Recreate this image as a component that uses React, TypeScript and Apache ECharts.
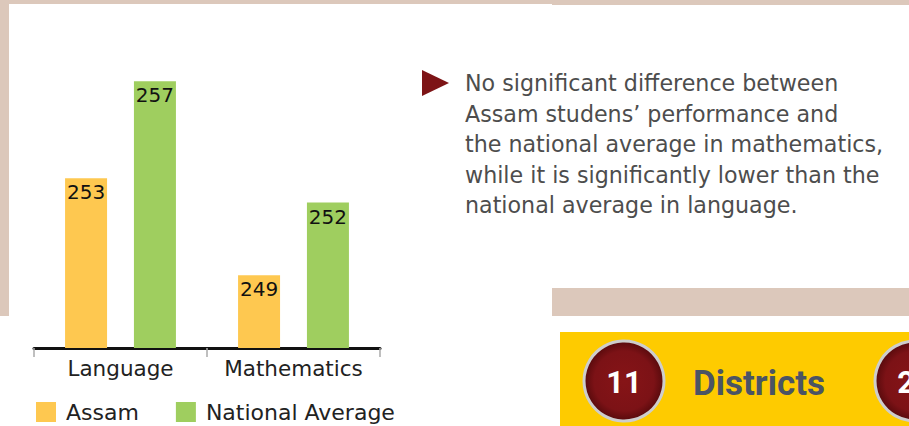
import React, { useEffect, useRef } from "react";
import * as echarts from "echarts";

const categories = ["Language", "Mathematics"];
const assamValues = [253, 249];
const nationalValues = [257, 252];
const seriesNames = ["Assam", "National Average"];
const noteLines = [
  "No significant difference between",
  "Assam studens\u2019 performance and",
  "the national average in mathematics,",
  "while it is significantly lower than the",
  "national average in language.",
];
const districtCount = "11";
const districtLabel = "Districts";
const secondCount = "22";

const FONT = "DejaVu Sans";

export default function App() {
  const ref = useRef<HTMLDivElement>(null);
  useEffect(() => {
    if (!ref.current) return;
    const chart = echarts.init(ref.current, undefined, { renderer: "svg" });
    const circleFill = {
      type: "radial",
      x: 0.5,
      y: 0.5,
      r: 0.5,
      colorStops: [
        { offset: 0, color: "#861417" },
        { offset: 0.75, color: "#7c1216" },
        { offset: 1, color: "#560a0c" },
      ],
    };
    chart.setOption({
      animation: false,
      backgroundColor: "#ffffff",
      textStyle: { fontFamily: FONT },
      grid: { left: 34, width: 346, top: 57, bottom: 78, containLabel: false },
      xAxis: {
        type: "category",
        data: categories,
        axisLine: { lineStyle: { color: "#111", width: 3 } },
        axisTick: { show: true, length: 9, lineStyle: { color: "#aaaaaa", width: 1.5 } },
        axisLabel: {
          fontSize: 21.5,
          color: "#222",
          margin: 9,
          fontFamily: FONT,
          interval: 0,
          hideOverlap: false,
        },
      },
      yAxis: {
        type: "value",
        min: 246,
        max: 258,
        show: false,
        splitLine: { show: false },
      },
      legend: {
        left: 36,
        top: 401,
        padding: 0,
        itemWidth: 20,
        itemHeight: 20,
        itemGap: 37,
        icon: "rect",
        data: seriesNames,
        textStyle: { fontSize: 22, color: "#222", fontFamily: FONT, padding: [0, 0, 0, 5] },
      },
      series: [
        {
          name: seriesNames[0],
          type: "bar",
          data: assamValues,
          barWidth: 42,
          barGap: "64%",
          itemStyle: { color: "#fec850" },
          label: {
            show: true,
            position: "insideTop",
            distance: 4,
            fontSize: 20,
            color: "#111",
            fontFamily: FONT,
          },
        },
        {
          name: seriesNames[1],
          type: "bar",
          data: nationalValues,
          barWidth: 42,
          itemStyle: { color: "#9fce5f" },
          label: {
            show: true,
            position: "insideTop",
            distance: 4,
            fontSize: 20,
            color: "#111",
            fontFamily: FONT,
          },
        },
      ],
      graphic: [
        { type: "rect", shape: { x: 0, y: 0, width: 552, height: 4 }, style: { fill: "#dcc8bb" }, silent: true },
        { type: "rect", shape: { x: 552, y: 0, width: 357, height: 5 }, style: { fill: "#dcc8bb" }, silent: true },
        { type: "rect", shape: { x: 0, y: 0, width: 9, height: 316 }, style: { fill: "#dcc8bb" }, silent: true },
        {
          type: "polygon",
          shape: { points: [[422, 70], [449, 83], [422, 96]] },
          style: { fill: "#7d1416" },
          silent: true,
        },
        {
          type: "text",
          left: 465,
          top: 68,
          style: {
            text: noteLines.join("\n"),
            font: `22.2px '${FONT}'`,
            fill: "#4d4d4d",
            lineHeight: 30.5,
          },
          silent: true,
        },
        { type: "rect", shape: { x: 552, y: 288, width: 357, height: 28 }, style: { fill: "#dcc8bb" }, silent: true },
        { type: "rect", shape: { x: 560, y: 332, width: 349, height: 94 }, style: { fill: "#fecb00" }, silent: true },
        {
          type: "circle",
          shape: { cx: 624, cy: 381, r: 40 },
          style: { fill: circleFill, stroke: "#cdcdcd", lineWidth: 3 },
          silent: true,
        },
        {
          type: "text",
          x: 624,
          y: 382,
          style: {
            text: districtCount,
            font: "bold 31px Roboto",
            fill: "#ffffff",
            align: "center",
            verticalAlign: "middle",
          },
          silent: true,
        },
        {
          type: "text",
          x: 693,
          y: 383,
          style: {
            text: districtLabel,
            font: "bold 35px Roboto",
            fill: "#4b5464",
            align: "left",
            verticalAlign: "middle",
          },
          silent: true,
        },
        {
          type: "circle",
          shape: { cx: 915, cy: 381, r: 40 },
          style: { fill: circleFill, stroke: "#cdcdcd", lineWidth: 3 },
          silent: true,
        },
        {
          type: "text",
          x: 915,
          y: 382,
          style: {
            text: secondCount,
            font: "bold 31px Roboto",
            fill: "#ffffff",
            align: "center",
            verticalAlign: "middle",
          },
          silent: true,
        },
      ],
    });
    return () => chart.dispose();
  }, []);
  return (
    <div
      ref={ref}
      style={{ position: "fixed", left: 0, top: 0, width: 909, height: 426 }}
    />
  );
}
